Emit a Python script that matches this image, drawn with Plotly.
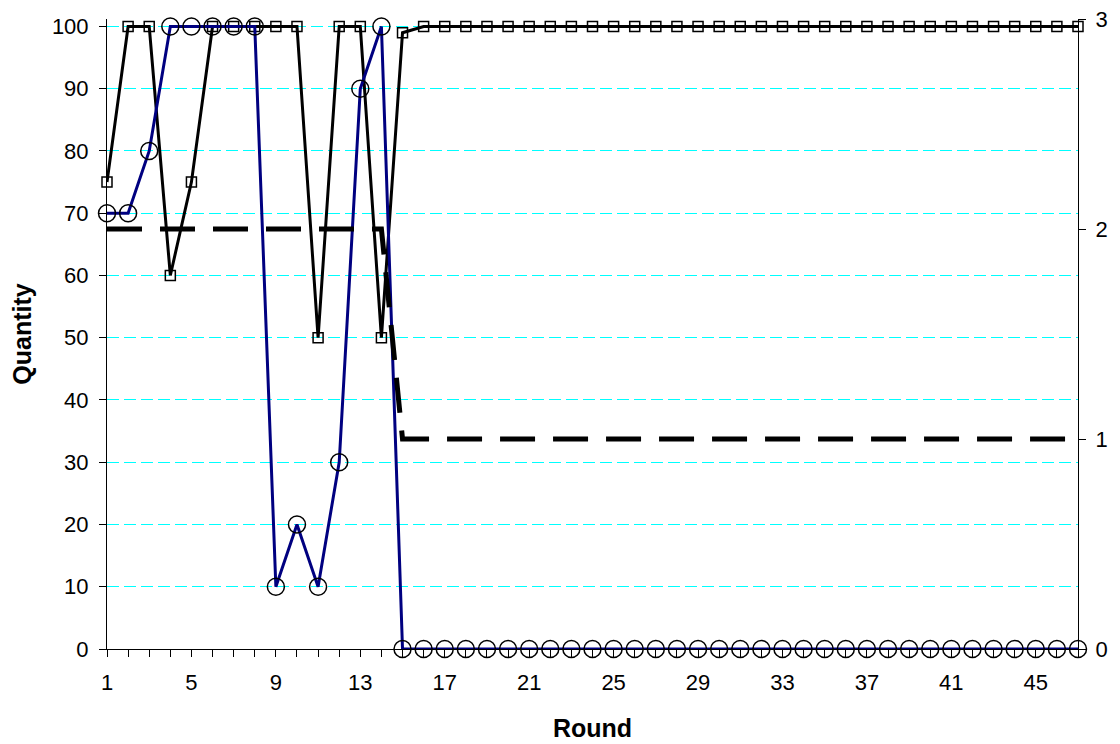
import plotly.graph_objects as go

rounds = list(range(1, 48))

# Square series (black)
qty_square = [75, 100, 100, 60, 75, 100, 100, 100, 100, 100, 50, 100, 100, 50, 99] + [100] * 32
# Circle series (navy)
qty_circle = [70, 70, 80, 100, 100, 100, 100, 100, 10, 20, 10, 30, 90, 100] + [0] * 33
# Dashed series on secondary axis
state = [2] * 14 + [1] * 33

x_tick_vals = rounds
x_tick_text = [str(r) if (r - 1) % 4 == 0 else "" for r in rounds]
y_tick_vals = list(range(0, 101, 10))
y2_tick_vals = [0, 1, 2, 3]

FONT = "Liberation Sans, Arial, sans-serif"

fig = go.Figure()

fig.add_trace(go.Scatter(
    x=rounds, y=qty_square, mode="lines+markers",
    line=dict(color="#000000", width=3),
    marker=dict(symbol="square-open", size=10, color="#000000", line=dict(width=1.5, color="#000000")),
    cliponaxis=False, showlegend=False,
))
fig.add_trace(go.Scatter(
    x=rounds, y=qty_circle, mode="lines+markers",
    line=dict(color="#000080", width=3),
    marker=dict(symbol="circle-open", size=17, color="#000000", line=dict(width=1.5, color="#000000")),
    cliponaxis=False, showlegend=False,
))
fig.add_trace(go.Scatter(
    x=rounds, y=state, mode="lines", yaxis="y2",
    line=dict(color="#000000", width=5, dash="35px,18px"),
    cliponaxis=False, showlegend=False,
))

fig.update_layout(
    width=1112, height=736,
    margin=dict(l=99, r=42, t=11, b=95, autoexpand=False),
    paper_bgcolor="white", plot_bgcolor="white",
    font=dict(family=FONT, size=22, color="#000000"),
    xaxis=dict(
        range=[1, 47], tickvals=x_tick_vals, ticktext=x_tick_text,
        ticks="outside", ticklen=7, tickcolor="#000000", tickwidth=1,
        showline=True, linecolor="#000000", linewidth=1,
        showgrid=False, zeroline=False,
        title=dict(text="<b>Round</b>", font=dict(size=25), standoff=25),
        tickfont=dict(size=22), ticklabelstandoff=7, ticklabeloverflow="allow",
    ),
    yaxis=dict(
        range=[0, 101.2], tickvals=y_tick_vals,
        ticks="outside", ticklen=7, tickcolor="#000000", tickwidth=1,
        showline=True, linecolor="#000000", linewidth=1,
        showgrid=True, gridcolor="#00FFFF", gridwidth=1, griddash="12px,5px",
        zeroline=False,
        title=dict(text="<b>Quantity</b>", font=dict(size=25), standoff=17),
        tickfont=dict(size=22), ticklabelstandoff=6, ticklabeloverflow="allow",
    ),
    yaxis2=dict(
        range=[0, 3], tickvals=y2_tick_vals, overlaying="y", side="right",
        ticks="outside", ticklen=7, tickcolor="#000000", tickwidth=1,
        showline=True, linecolor="#000000", linewidth=1,
        showgrid=False, zeroline=False,
        tickfont=dict(size=22), ticklabelstandoff=5, ticklabeloverflow="allow",
    ),
)

fig.write_html("out.html")
